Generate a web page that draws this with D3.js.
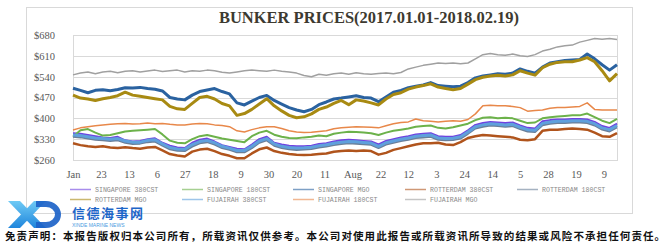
<!DOCTYPE html>
<html>
<head>
<meta charset="utf-8">
<script src="https://cdn.jsdelivr.net/npm/d3@7/dist/d3.min.js"></script>
<style>
html,body{margin:0;padding:0;background:#fff;}
svg{display:block;}
</style>
</head>
<body>
<svg id="chart" width="670" height="243"></svg>
<script>
// ---------- DATA ----------
const title = "BUNKER PRICES(2017.01.01-2018.02.19)";
const tickLabels = ["Jan","23","13","6","27","18","9","30","20","11","Aug","22","12","3","24","14","5","28","19","9"];
const yTicks = [260,330,400,470,540,610,680];
const seriesNames = ["SINGAPORE 380CST","SINGAPORE 180CST","SINGAPORE MGO","ROTTERDAM 380CST","ROTTERDAM 180CST","ROTTERDAM MGO","FUJAIRAH 380CST","FUJAIRAH 180CST","FUJAIRAH MGO"];
const seriesColors = ["#6f42e0","#6cb24a","#2a62a0","#b0541c","#6a7f99","#a88a12","#5fa0dc","#e8884a","#a0a0a0"];
const seriesWidths = [2,2,3,2.5,2,3,3,1.5,1.5];
const totalDays = 292;      // trading days on the axis
const sampleStep = 4;       // one value every 4 trading days
const tickStep = 15;        // one axis label every 15 trading days

const sg380 = [350,348,344,340,336,334,338,326,322,324,330,333,318,308,302,300,318,328,332,322,310,304,298,296,312,330,338,318,312,308,306,306,308,314,316,322,326,328,326,324,322,312,324,330,336,340,346,348,350,340,338,338,344,360,378,384,388,386,384,386,376,368,366,390,394,396,396,398,398,396,388,374,368,382];
const sg180 = [338,360,364,352,342,344,350,356,358,360,362,364,346,325,318,316,330,340,344,338,332,328,324,320,340,352,358,345,338,334,333,336,338,342,340,348,352,355,354,352,350,344,352,358,362,366,372,374,376,368,366,370,376,382,394,402,404,400,402,400,392,384,386,400,404,406,408,410,410,416,404,392,384,398];
const sgMgo = [501,494,486,494,496,493,497,503,502,504,500,498,492,470,465,462,478,490,495,500,490,482,452,445,458,470,477,460,448,436,428,422,430,446,455,465,468,472,476,470,468,456,472,488,494,503,508,512,520,510,508,506,508,520,536,542,546,550,548,552,566,558,552,572,586,590,594,596,598,616,600,580,562,580];
const rot380 = [316,310,306,304,306,302,300,303,300,298,302,304,292,280,275,272,288,295,298,290,280,274,266,266,282,296,302,290,284,280,278,277,278,280,282,288,290,292,290,292,290,278,284,294,300,306,312,316,316,318,312,310,320,334,340,344,342,340,338,336,328,326,330,358,362,362,364,366,364,362,352,340,338,350];
const rot180 = [338,336,332,328,326,324,326,318,314,315,320,322,308,296,291,290,305,316,320,312,300,294,286,286,300,318,326,308,300,296,294,295,297,302,305,310,314,316,315,313,311,300,312,318,324,328,334,336,338,328,326,327,332,348,366,372,376,374,372,374,364,356,354,377,382,384,384,386,386,384,376,362,356,370];
const rotMgo = [478,468,465,460,466,470,476,488,478,474,470,466,462,440,432,430,450,470,474,465,450,442,410,416,430,448,466,442,425,410,402,405,415,430,438,450,460,446,462,458,452,445,465,480,486,498,505,510,516,505,500,496,500,515,530,538,542,545,542,546,560,552,545,570,582,588,590,590,596,604,590,560,526,550];
const fuj380 = [344,342,338,334,332,330,332,324,320,320,326,328,314,302,297,296,312,322,326,318,306,300,292,292,306,324,332,314,306,302,300,301,303,308,311,316,320,322,321,319,317,306,318,324,330,334,340,342,344,334,332,333,338,354,372,378,382,380,378,380,370,362,360,383,388,390,390,392,392,390,382,368,362,376];
const fuj180 = [361,368,372,375,378,380,382,383,381,382,384,382,383,380,378,378,381,383,382,378,376,372,358,354,362,368,372,372,366,358,354,352,353,356,358,365,368,370,372,371,370,368,375,382,386,388,398,392,390,388,390,392,390,396,415,442,444,442,442,440,436,424,426,428,434,436,436,438,440,452,430,428,428,428];
const fujMgo = [546,552,556,550,556,558,553,558,560,556,559,562,557,560,562,556,560,558,562,560,555,552,556,560,562,560,558,562,558,556,552,544,540,548,545,550,552,548,553,550,548,551,552,550,554,566,572,578,582,586,584,586,583,586,600,614,618,614,612,616,610,608,614,626,632,640,644,646,656,662,668,666,668,665];

const seriesValues = [sg380, sg180, sgMgo, rot380, rot180, rotMgo, fuj380, fuj180, fujMgo];

const disclaimer = "免责声明：本报告版权归本公司所有，所载资讯仅供参考。本公司对使用此报告或所载资讯所导致的结果或风险不承担任何责任。";
const brandName = "信德海事网";
const brandSub = "XINDE MARINE NEWS";

// ---------- DRAW ----------
const svg = d3.select("#chart");
const plot = {left:73, right:617, top:35, bottom:160};

// chart box
svg.append("rect").attr("x",26.5).attr("y",7.5).attr("width",606).attr("height",206)
  .attr("fill","#fff").attr("stroke","#d9d9d9").attr("stroke-width",1);

const x = d3.scaleLinear().domain([0,totalDays]).range([plot.left,plot.right]);
const y = d3.scaleLinear().domain([260,680]).range([plot.bottom,plot.top]);

// gridlines
svg.append("g").selectAll("line").data(yTicks).join("line")
  .attr("x1",plot.left).attr("x2",plot.right)
  .attr("y1",d=>Math.round(y(d))+0.5).attr("y2",d=>Math.round(y(d))+0.5)
  .attr("stroke","#d9d9d9").attr("stroke-width",1);
// plot frame
svg.append("rect").attr("x",plot.left+0.5).attr("y",plot.top+0.5)
  .attr("width",plot.right-plot.left).attr("height",plot.bottom-plot.top)
  .attr("fill","none").attr("stroke","#d9d9d9");

// title
svg.append("text").attr("x",369).attr("y",23).attr("text-anchor","middle")
  .attr("font-family","'Liberation Serif',serif").attr("font-weight","bold")
  .attr("font-size",16.5).attr("fill","#3d3a30").text(title);

// y axis
const yAxis = svg.append("g").attr("transform",`translate(${plot.left-15},0)`)
  .call(d3.axisLeft(y).tickValues(yTicks).tickFormat(d=>"$"+d).tickSize(0));
yAxis.select(".domain").remove();
yAxis.selectAll("text").attr("font-family","'Liberation Serif',serif").attr("font-size",10.5).attr("fill","#595959");

// x axis
const xAxis = svg.append("g").attr("transform",`translate(0,${plot.bottom+8})`)
  .call(d3.axisBottom(x).tickValues(tickLabels.map((_,i)=>i*tickStep)).tickFormat((d,i)=>tickLabels[i]).tickSize(0));
xAxis.select(".domain").remove();
xAxis.selectAll("text").attr("font-family","'Liberation Serif',serif").attr("font-size",10.5).attr("fill","#595959");

// lines
const line = d3.line().x((d,i)=>x(i*sampleStep)).y(d=>y(d));
svg.append("g").selectAll("path").data(seriesValues).join("path")
  .attr("d",line).attr("fill","none")
  .attr("stroke",(d,i)=>seriesColors[i]).attr("stroke-width",(d,i)=>seriesWidths[i])
  .attr("stroke-linejoin","round");

// legend
const legCols = [70,182,293,405,517];
const legRows = [189.5,199.5];
const leg = svg.append("g");
seriesNames.forEach((name,i)=>{
  const col = i<5 ? i : i-5;
  const row = i<5 ? 0 : 1;
  const g = leg.append("g").attr("transform",`translate(${legCols[col]},${legRows[row]})`);
  g.append("line").attr("x1",0).attr("x2",21).attr("y1",0).attr("y2",0)
    .attr("stroke",seriesColors[i]).attr("stroke-width",1.5).attr("opacity",0.6);
  g.append("text").attr("x",25).attr("y",2.4)
    .attr("font-family","'Liberation Mono',monospace").attr("font-size",6.6)
    .attr("fill","#8a8a8a").text(name);
});

// logo (graphic marks)
const defs = svg.append("defs");
const grad = defs.append("linearGradient").attr("id","xg").attr("x1",0).attr("y1",0).attr("x2",0).attr("y2",1);
grad.append("stop").attr("offset","0%").attr("stop-color","#6fcaf5");
grad.append("stop").attr("offset","100%").attr("stop-color","#1f86dc");
const logo = svg.append("g");
logo.append("path").attr("d","M8,201 L20,201 L46,228 L34,228 Z").attr("fill","url(#xg)");
logo.append("path").attr("d","M34,201 L46,201 L20,228 L8,228 Z").attr("fill","url(#xg)");
logo.append("path").attr("d","M36,201 L46,201 A15,13.5 0 0 1 46,228 L36,228 L36,222 L46,222 A9,7.5 0 0 0 46,207 L36,207 Z")
  .attr("fill","#1d63c8").attr("opacity",0.92);
svg.append("text").attr("x",72).attr("y",218).attr("font-family","'Noto Sans CJK SC',sans-serif")
  .attr("font-weight","bold").attr("font-size",13).attr("letter-spacing",1.5).attr("fill","#1e66c8").text(brandName);
svg.append("text").attr("x",72).attr("y",226.5).attr("font-family","'Liberation Sans',sans-serif")
  .attr("font-size",5).attr("fill","#4a9be0").text(brandSub);

// disclaimer
svg.append("text").attr("x",5).attr("y",240).attr("font-family","'Noto Sans CJK SC',sans-serif")
  .attr("font-weight","bold").attr("font-size",10.5).attr("letter-spacing",1.1).attr("fill","#111").text(disclaimer);
</script>
</body>
</html>
